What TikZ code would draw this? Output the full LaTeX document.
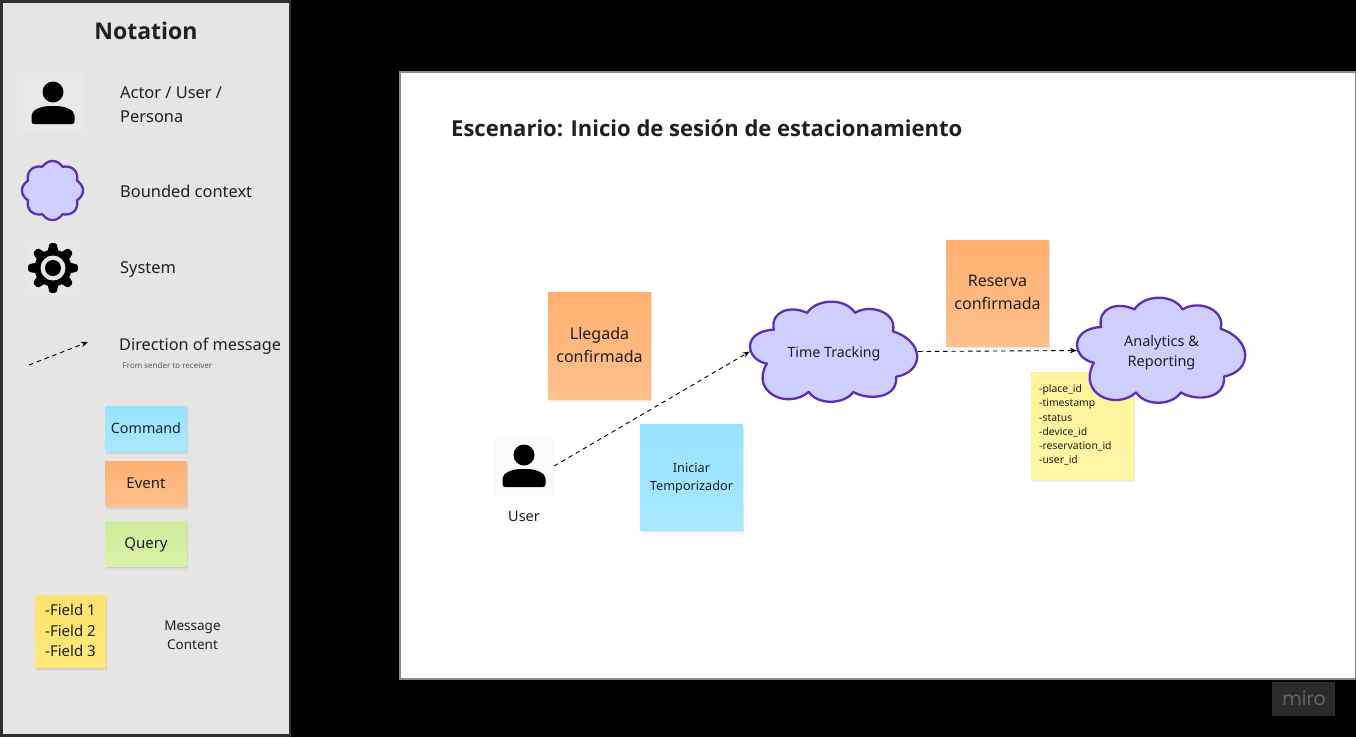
\documentclass[tikz,border=0pt]{standalone}
\usepackage{fontspec}
\setmainfont{Noto Sans}
\newfontfamily\headfont{Open Sans}
\newfontfamily\logofont{Poppins}
\usetikzlibrary{shadows,arrows.meta}
\definecolor{panel}{HTML}{E5E5E5}
\definecolor{panelrim}{HTML}{303030}
\definecolor{ink}{HTML}{1F1F24}
\definecolor{cloudfill}{HTML}{CFCFFF}
\definecolor{cloudline}{HTML}{5E2DB5}
\definecolor{evA}{HTML}{FFB070}
\definecolor{evB}{HTML}{FFC08C}
\definecolor{cmA}{HTML}{97E2FF}
\definecolor{cmB}{HTML}{A8E9FF}
\definecolor{quA}{HTML}{CFEC9A}
\definecolor{quB}{HTML}{D9F2A9}
\definecolor{yeA}{HTML}{FFE36C}
\definecolor{yeB}{HTML}{FFE97C}
\definecolor{paleA}{HTML}{FFF49B}
\definecolor{paleB}{HTML}{FFF7A6}
\definecolor{iconA}{HTML}{E8E8E8}
\definecolor{iconB}{HTML}{FBFBFB}
\definecolor{logoBg}{HTML}{2B2B2B}
\definecolor{logoTx}{HTML}{62626A}
\definecolor{rim}{HTML}{8A8A8A}
\newcommand\shifted[2]{\raisebox{#1}[\height][\depth]{\begin{tabular}{@{}c@{}}#2\end{tabular}}}
\tikzset{
  txt/.style={inner sep=0pt,text=ink,align=center},
  ltxt/.style={inner sep=0pt,text=ink,align=left,anchor=west},
  fs/.style 2 args={font=\fontsize{#1}{#2}\selectfont},
  dims/.style 2 args={minimum width=#1pt,minimum height=#2pt},
  sticky/.style 2 args={rectangle,inner sep=0pt,text=ink,align=center,
    top color=#1,bottom color=#2,
    general shadow={shadow xshift=1pt,shadow yshift=-4pt,opacity=.035,fill=black},
    general shadow={shadow xshift=1pt,shadow yshift=-2pt,opacity=.06,fill=black}},
  msg/.style={draw=black,line width=.9pt,dash pattern=on 4.5pt off 3.8pt,
    -{Stealth[length=7pt,width=5.5pt]}},
  bcl/.style={fill=cloudfill,draw=cloudline,line width=2.3pt,line join=round},
  iconbg/.style={rectangle,inner sep=0pt,minimum size=#1pt,draw=none},
}
\newcommand\bigcloud[4]{%
  \begin{scope}[shift={(#1,#2)},xscale=#3,yscale=#4]
  \path[bcl] (.142,.283)
   .. controls (-.05,.30) and (-.03,.58) .. (.10,.62)
   .. controls (.0,.90) and (.22,1.08) .. (.35,.90)
   .. controls (.40,1.03) and (.56,1.03) .. (.615,.90)
   .. controls (.69,.98) and (.88,.98) .. (.87,.75)
   .. controls (1.04,.70) and (1.04,.40) .. (.85,.30)
   .. controls (.88,.12) and (.72,.02) .. (.625,.117)
   .. controls (.57,-.03) and (.40,-.03) .. (.34,.117)
   .. controls (.24,.04) and (.12,.10) .. (.142,.283) -- cycle;
  \end{scope}}
\newcommand\personicon[2]{%
  \begin{scope}[shift={(#1,#2)}]
  \fill[black] (0,-11) circle[radius=10.5];
  \fill[black,rounded corners=2.5pt] (-21.5,21) -- (-21.5,15)
    .. controls (-21.5,7) and (-12,3) .. (0,3)
    .. controls (12,3) and (21.5,7) .. (21.5,15) -- (21.5,21) -- cycle;
  \end{scope}}
\begin{document}
\begin{tikzpicture}[x=1pt,y=-1pt]
\useasboundingbox (0,0) rectangle (1356,737);
\fill[black] (0,0) rectangle (1356,737);
% notation panel
\fill[panelrim] (0,0) rectangle (291,737);
\fill[panel] (3,3) rectangle (289,734);
\node[txt,font=\fontsize{23}{28}\selectfont\headfont\bfseries] (nottitle) at (146,31) {Notation};
% legend: actor
\node[iconbg=60,fill=iconA] (legactor) at (53,103) {};
\personicon{53}{103}
\node[ltxt,fs={16.4}{24}] (lactor) at (120,105) {Actor / User /\\Persona};
% legend: bounded context
\path[bcl] plot[domain=0:360,samples=240,smooth] ({52.5+30.5*(.87+.13*abs(cos(4*\x)))*cos(\x)},{190.5+29.5*(.87+.13*abs(cos(4*\x)))*sin(\x)}) -- cycle;
\node[ltxt,fs={16.4}{24}] (lcontext) at (120,191) {Bounded context};
% legend: system
\node[iconbg=54,fill=iconA] (legsys) at (53,268) {};
\foreach \a in {0,45,...,315}{
  \fill[black,rounded corners=1.5pt,rotate around={\a:(53,268)}] (47.5,252) -- (49.5,243.2) -- (56.5,243.2) -- (58.5,252) -- cycle;
}
\fill[black] (53,268) circle[radius=18.5];
\fill[panel] (53,268) circle[radius=12.5];
\fill[black] (53,268) circle[radius=8];
\node[ltxt,fs={16.4}{24}] (lsystem) at (120,269.5) {System};
% legend: message
\coordinate (la) at (29,365);
\coordinate (lb) at (88,342);
\draw[msg] (la) -- (lb);
\node[ltxt,fs={16.3}{22}] (ldir) at (119,346) {Direction of message};
\node[ltxt,fs={8}{10},text=ink!75] (lfrom) at (122.5,365.5) {From sender to receiver};
% legend: stickies
\node[sticky={cmA}{cmB},dims={82}{45},fs={14.3}{20}] (lcmd) at (146,428.5) {Command};
\node[sticky={evA}{evB},dims={82}{45},fs={15}{20}] (levt) at (146,483.5) {Event};
\node[sticky={quA}{quB},dims={82}{45},fs={15}{20}] (lqry) at (146,543.5) {\shifted{-1pt}{Query}};
\node[sticky={yeA}{yeB},dims={71}{72}] (lfld) at (70.5,631) {};
\node[ltxt,fs={15}{20.5}] (lfldt) at (45,630.5) {-Field 1\\-Field 2\\-Field 3};
\node[txt,fs={13.5}{19}] (lmsg) at (192.5,635) {Message\\Content};
% canvas
\fill[white,draw=rim,line width=1.3pt] (400,72) rectangle (1355.5,679);
\node[ltxt,font=\fontsize{22}{28}\selectfont\headfont\bfseries] (title) at (451,128) {Escenario: Inicio de sesión de estacionamiento};
% scenario
\node[sticky={evA}{evB},dims={103}{107},fs={16}{23}] (llegada) at (599.5,345.5) {\shifted{-1pt}{Llegada\\confirmada}};
\node[sticky={evA}{evB},dims={103}{106},fs={16}{23}] (reserva) at (997.5,293) {\shifted{0pt}{Reserva\\confirmada}};
\node[sticky={cmA}{cmB},dims={103}{106},fs={12.7}{18}] (iniciar) at (691.5,477) {\shifted{-1pt}{Iniciar\\Temporizador}};
\node[sticky={paleA}{paleB},dims={103}{107}] (fields) at (1082.5,425.5) {};
\node[ltxt,fs={10.4}{14.3}] (fieldst) at (1039,425) {-place\_id\\-timestamp\\-status\\-device\_id\\-reservation\_id\\-user\_id};
\node[iconbg=60,fill=iconB] (user) at (524,466) {};
\personicon{524}{466}
\node[txt,fs={14.5}{18}] (userl) at (524,516.5) {User};
\bigcloud{750}{301}{168}{101}
\node[txt,fs={14.2}{20},dims={168}{101}] (tt) at (834,351.5) {\shifted{-2pt}{Time Tracking}};
\bigcloud{1077}{297}{169}{106}
\node[txt,fs={14.5}{20},dims={169}{106}] (ar) at (1161.5,350.5) {\shifted{-2pt}{Analytics \&\\Reporting}};
\draw[msg] (user.east) -- (tt.west);
\draw[msg] (tt.east) -- (ar.west);
% miro mark
\fill[logoBg] (1272,682) rectangle (1335,716);
\node[txt,text=logoTx,font=\fontsize{19}{22}\selectfont\logofont] (miro) at (1304,698) {miro};
\end{tikzpicture}
\end{document}
